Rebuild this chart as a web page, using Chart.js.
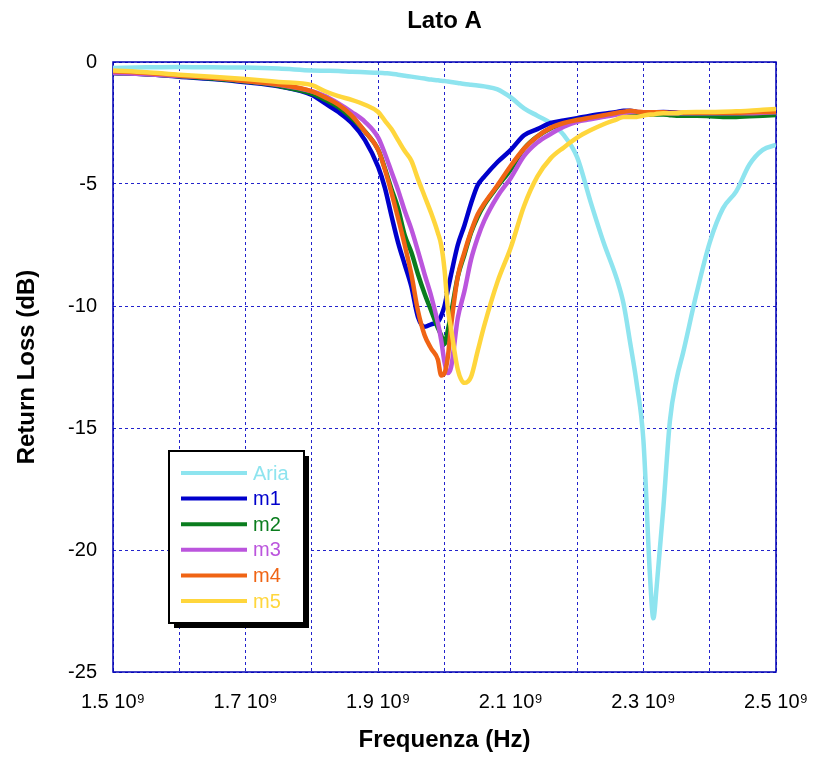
<!DOCTYPE html>
<html>
<head>
<meta charset="utf-8">
<script src="https://cdn.jsdelivr.net/npm/chart.js@4"></script>
<style>
  html, body { margin: 0; padding: 0; background: #fff; }
  #wrap { width: 814px; height: 760px; }
</style>
</head>
<body>
<div id="wrap"><canvas id="chart" width="814" height="760"></canvas></div>
<script>
// frequency in units of 10^9 Hz
const freq = [1.50, 1.55, 1.60, 1.65, 1.70, 1.75, 1.80, 1.82, 1.84, 1.86, 1.88,
  1.90, 1.91, 1.92, 1.93, 1.94, 1.95, 1.96, 1.97, 1.98, 1.99, 1.995, 2.00, 2.005,
  2.01, 2.02, 2.03, 2.04, 2.05, 2.06, 2.08, 2.10, 2.12, 2.14, 2.16, 2.18, 2.20,
  2.22, 2.24, 2.26, 2.27, 2.28, 2.29, 2.30, 2.31, 2.315, 2.32, 2.33, 2.34, 2.35,
  2.36, 2.38, 2.40, 2.42, 2.44, 2.46, 2.48, 2.50];

// return loss in dB
const aria = [-0.25, -0.22, -0.2, -0.22, -0.23, -0.27, -0.35, -0.36, -0.37, -0.4, -0.42,
  -0.44, -0.46, -0.48, -0.52, -0.56, -0.6, -0.64, -0.68, -0.72, -0.75, -0.77, -0.78, -0.8,
  -0.82, -0.86, -0.9, -0.93, -0.96, -1.0, -1.12, -1.45, -1.9, -2.2, -2.5, -3.0, -3.9,
  -5.7, -7.4, -8.9, -9.9, -11.5, -13.2, -15.5, -21.1, -22.8, -21.5, -18.3, -14.7, -13.0,
  -11.9, -9.5, -7.4, -6.0, -5.3, -4.2, -3.6, -3.4];
const m1 = [-0.45, -0.5, -0.6, -0.7, -0.83, -1.0, -1.35, -1.7, -2.05, -2.5, -3.2,
  -4.3, -5.15, -6.3, -7.4, -8.3, -9.2, -10.45, -10.85, -10.75, -10.65, -10.4, -10.0, -9.35,
  -8.7, -7.5, -6.7, -5.8, -5.05, -4.7, -4.1, -3.6, -3.0, -2.75, -2.5, -2.4, -2.3,
  -2.2, -2.12, -2.05, -2.0, -2.0, -2.05, -2.1, -2.08, -2.08, -2.06, -2.05, -2.06, -2.08,
  -2.1, -2.1, -2.12, -2.12, -2.12, -2.1, -2.08, -2.05];
const m2 = [-0.45, -0.5, -0.58, -0.68, -0.8, -0.98, -1.3, -1.55, -1.85, -2.3, -2.85,
  -3.6, -4.35, -5.2, -6.0, -7.1, -7.8, -8.7, -9.5, -10.2, -10.9, -11.2, -11.55, -11.0,
  -10.3, -8.8, -7.9, -7.0, -6.35, -5.85, -5.1, -4.4, -3.55, -3.05, -2.72, -2.52, -2.38,
  -2.3, -2.22, -2.12, -2.1, -2.08, -2.1, -2.12, -2.15, -2.15, -2.15, -2.15, -2.18, -2.2,
  -2.2, -2.2, -2.22, -2.25, -2.25, -2.22, -2.2, -2.17];
const m3 = [-0.45, -0.5, -0.57, -0.65, -0.78, -0.93, -1.2, -1.4, -1.7, -2.05, -2.45,
  -3.1, -3.75, -4.5, -5.25, -6.1, -6.85, -7.75, -8.7, -9.6, -10.7, -11.4, -12.3, -12.75,
  -12.5, -10.5, -9.4, -8.1, -7.2, -6.5, -5.5, -4.75, -3.85, -3.3, -2.95, -2.65, -2.45,
  -2.35, -2.25, -2.15, -2.1, -2.06, -2.05, -2.06, -2.08, -2.08, -2.08, -2.08, -2.1, -2.1,
  -2.1, -2.1, -2.1, -2.1, -2.1, -2.1, -2.08, -2.06];
const m4 = [-0.38, -0.45, -0.55, -0.65, -0.78, -0.92, -1.2, -1.45, -1.75, -2.2, -2.85,
  -3.6, -4.4, -5.35, -6.4, -7.5, -8.7, -10.2, -11.2, -11.75, -12.2, -12.85, -12.75, -12.1,
  -10.8, -8.8, -7.8, -6.95, -6.25, -5.8, -5.05, -4.25, -3.55, -3.05, -2.7, -2.5, -2.38,
  -2.28, -2.18, -2.08, -2.04, -2.0, -2.04, -2.06, -2.06, -2.06, -2.06, -2.06, -2.08, -2.08,
  -2.08, -2.08, -2.08, -2.08, -2.08, -2.06, -2.05, -2.04];
const m5 = [-0.35, -0.42, -0.52, -0.6, -0.7, -0.82, -0.95, -1.2, -1.4, -1.55, -1.75,
  -2.05, -2.4, -2.75, -3.2, -3.65, -4.05, -4.8, -5.5, -6.2, -7.0, -7.5, -8.5, -10.1,
  -10.95, -12.6, -13.15, -12.9, -11.85, -10.8, -9.0, -7.6, -5.9, -4.7, -3.95, -3.5, -3.1,
  -2.8, -2.55, -2.35, -2.25, -2.25, -2.25, -2.2, -2.15, -2.15, -2.12, -2.1, -2.1, -2.1,
  -2.06, -2.05, -2.05, -2.04, -2.02, -2.0, -1.96, -1.93];

const seriesNames = ["Aria", "m1", "m2", "m3", "m4", "m5"];
const seriesData = [aria, m1, m2, m3, m4, m5];
const seriesColors = ["#8ee4ef", "#0000cc", "#0a7d1e", "#bb55dd", "#f06414", "#ffd63c"];

const FONT = "'Liberation Sans', Arial, Helvetica, sans-serif";

const datasets = seriesNames.map((name, i) => ({
  label: name,
  data: freq.map((f, j) => ({ x: f, y: seriesData[i][j] })),
  borderColor: seriesColors[i],
  backgroundColor: seriesColors[i],
  borderWidth: 4.5,
  pointRadius: 0,
  fill: false,
  cubicInterpolationMode: "monotone",
  order: seriesNames.length - i   // Aria at the bottom, m5 on top
}));

// blue frame round the plot area
const framePlugin = {
  id: "frame",
  beforeDatasetsDraw(chart) {
    const a = chart.chartArea, c = chart.ctx;
    c.save();
    c.strokeStyle = "#0000b4";
    c.lineWidth = 1.5;
    c.strokeRect(a.left, a.top, a.right - a.left, a.bottom - a.top);
    c.restore();
  }
};

// boxed legend with drop shadow inside the plot
const boxLegend = {
  id: "boxLegend",
  afterDatasetsDraw(chart) {
    const c = chart.ctx;
    const x = 169, y = 451, w = 135, h = 172;
    c.save();
    c.fillStyle = "#000";
    c.fillRect(x + 5, y + 5, w, h);
    c.fillStyle = "#fff";
    c.fillRect(x, y, w, h);
    c.strokeStyle = "#000";
    c.lineWidth = 2;
    c.strokeRect(x, y, w, h);
    c.font = "20px " + FONT;
    c.textBaseline = "middle";
    chart.data.datasets.forEach((ds, i) => {
      const ly = 473 + i * 25.6;
      c.strokeStyle = ds.borderColor;
      c.lineWidth = 4;
      c.beginPath();
      c.moveTo(181, ly);
      c.lineTo(247, ly);
      c.stroke();
      c.fillStyle = ds.borderColor;
      c.fillText(ds.label, 253, ly + 1);
    });
    c.restore();
  }
};

const ctx = document.getElementById("chart").getContext("2d");
const chart = new Chart(ctx, {
  type: "line",
  data: { datasets: datasets },
  plugins: [framePlugin, boxLegend],
  options: {
    responsive: false,
    animation: false,
    layout: { padding: { left: 0, right: 38, top: 0, bottom: 0 } },
    plugins: {
      legend: { display: false },
      tooltip: { enabled: false },
      title: {
        display: true,
        text: "Lato A",
        color: "#000",
        fullSize: false,
        font: { family: FONT, size: 24, weight: "bold" },
        padding: { top: 7, bottom: 26.2 }
      }
    },
    scales: {
      x: {
        type: "linear",
        min: 1.5,
        max: 2.5,
        afterFit: s => { s.height = 88; s.paddingRight = 0; s.paddingLeft = 0; },
        ticks: {
          stepSize: 0.1,
          autoSkip: false,
          maxRotation: 0,
          padding: 18,
          color: "#000",
          font: { family: FONT, size: 20 },
          callback: (v, i) => (i % 2 === 0 ? v.toFixed(1) + " 10\u2079" : "")
        },
        grid: { color: "#2222cc", lineWidth: 1, drawTicks: false },
        border: { display: false, dash: [3, 3] },
        title: {
          display: true,
          text: "Frequenza (Hz)",
          color: "#000",
          font: { family: FONT, size: 24, weight: "bold" },
          padding: { top: 0, bottom: 5 }
        }
      },
      y: {
        min: -25,
        max: 0,
        afterFit: s => { s.width = 113; },
        ticks: {
          stepSize: 5,
          padding: 16,
          color: "#000",
          font: { family: FONT, size: 20 },
          callback: v => String(v)
        },
        grid: { color: "#2222cc", lineWidth: 1, drawTicks: false },
        border: { display: false, dash: [3, 3] },
        title: {
          display: true,
          text: "Return Loss (dB)",
          color: "#000",
          font: { family: FONT, size: 24, weight: "bold" },
          padding: { top: 13, bottom: 0 }
        }
      }
    }
  }
});
</script>
</body>
</html>
